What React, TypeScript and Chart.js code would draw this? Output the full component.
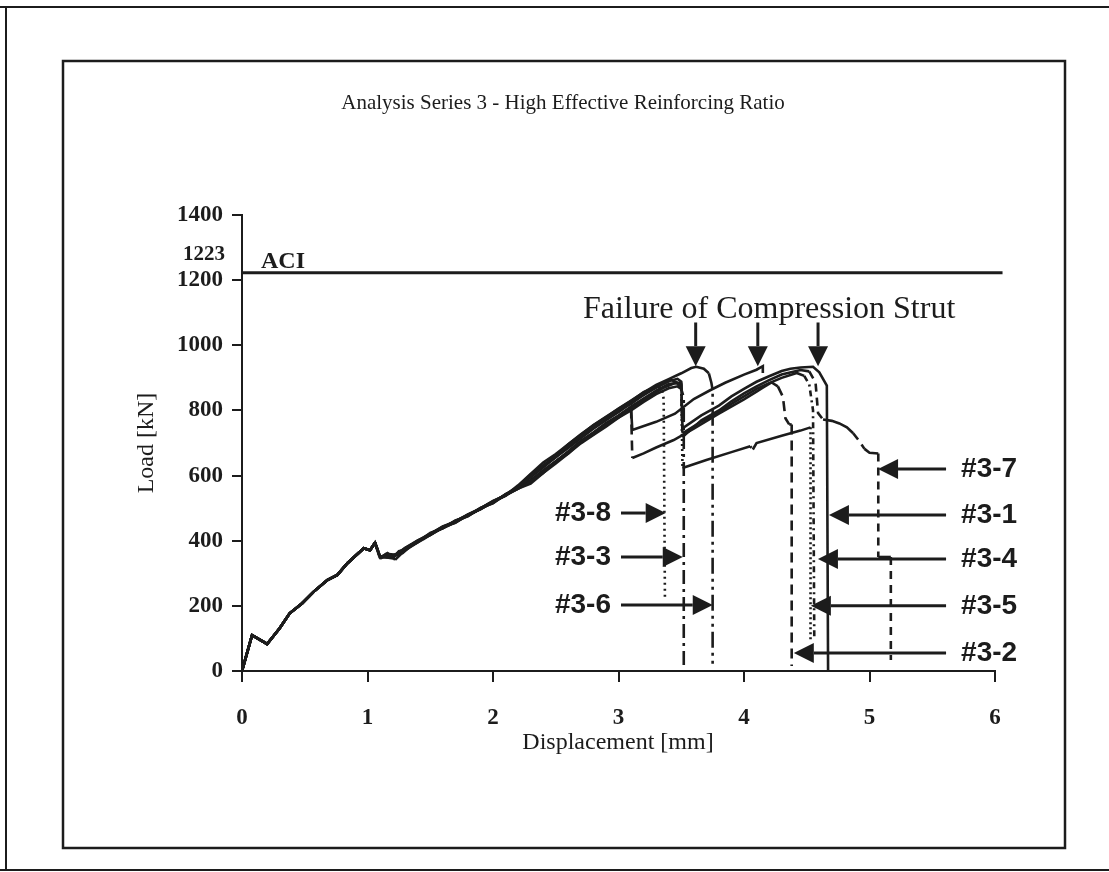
import { useEffect, useRef } from 'react';
import { Chart, registerables } from 'chart.js';

Chart.register(...registerables);

type Pt = [number, number];

// Shared initial loading branch (displacement mm, load kN)
const riseStart: Pt[] = [
  [0, 0], [0.08, 110], [0.2, 83], [0.3, 131], [0.38, 177], [0.48, 208], [0.57, 243],
  [0.68, 279], [0.76, 295], [0.84, 331], [0.97, 377], [1.02, 371], [1.06, 394],
];

const run31: Pt[] = [
  [1.1, 348], [1.16, 362], [1.2, 350], [1.3, 378], [1.4, 401], [1.5, 418], [1.6, 441], [1.7, 455],
  [1.8, 480], [1.9, 496], [2.0, 520], [2.1, 538], [2.2, 566], [2.3, 596], [2.4, 631], [2.5, 656],
  [2.6, 691], [2.7, 718], [2.8, 749], [2.9, 771], [3.0, 801], [3.1, 820], [3.2, 850], [3.3, 870],
  [3.4, 890], [3.47, 897], [3.5, 888], [3.51, 745], [3.66, 785], [3.8, 815], [3.9, 843], [4.0, 866],
  [4.1, 888], [4.2, 905], [4.3, 921], [4.37, 928], [4.45, 932], [4.55, 934], [4.6, 917], [4.66, 876],
  [4.67, 0],
];

const run32: Pt[] = [
  [1.1, 352], [1.2, 346], [1.25, 368], [1.3, 372], [1.4, 396], [1.5, 424], [1.6, 438], [1.7, 462],
  [1.8, 475], [1.9, 501], [2.0, 515], [2.1, 543], [2.2, 560], [2.3, 582], [2.4, 608], [2.5, 643],
  [2.6, 668], [2.7, 704], [2.8, 726], [2.9, 758], [3.0, 778], [3.1, 806], [3.11, 654], [3.2, 668],
  [3.3, 686], [3.44, 709], [3.6, 744], [3.8, 790], [4.0, 834], [4.1, 858], [4.15, 870], [4.22, 886],
  [4.27, 874], [4.31, 842], [4.33, 776], [4.36, 757], [4.38, 757], [4.38, 15],
];

const run33: Pt[] = [
  [1.1, 345], [1.18, 358], [1.22, 341], [1.3, 371], [1.4, 395], [1.5, 421], [1.6, 444], [1.7, 459],
  [1.8, 481], [1.9, 499], [2.0, 521], [2.1, 541], [2.2, 565], [2.3, 595], [2.4, 625], [2.5, 656],
  [2.6, 685], [2.7, 715], [2.8, 744], [2.9, 770], [3.0, 795], [3.1, 822], [3.2, 847], [3.3, 871],
  [3.42, 893], [3.47, 886], [3.5, 866], [3.52, 840], [3.52, 0],
];

const run34: Pt[] = [
  [1.1, 350], [1.2, 355], [1.28, 362], [1.35, 385], [1.45, 406], [1.55, 430], [1.65, 447], [1.75, 470],
  [1.85, 487], [1.95, 510], [2.05, 530], [2.15, 552], [2.25, 574], [2.35, 596], [2.45, 628], [2.55, 656],
  [2.65, 689], [2.75, 716], [2.85, 744], [2.95, 770], [3.05, 795], [3.15, 820], [3.25, 845], [3.35, 868],
  [3.45, 884], [3.5, 880], [3.51, 730], [3.66, 766], [3.8, 795], [3.9, 820], [4.0, 843], [4.1, 866],
  [4.2, 884], [4.3, 900], [4.42, 915], [4.48, 906], [4.52, 880], [4.55, 800], [4.56, 100],
];

const run35: Pt[] = [
  [1.1, 347], [1.15, 360], [1.25, 356], [1.3, 376], [1.4, 399], [1.5, 419], [1.6, 442], [1.7, 456],
  [1.8, 479], [1.9, 497], [2.0, 519], [2.1, 539], [2.2, 560], [2.3, 575], [2.4, 608], [2.5, 637],
  [2.6, 668], [2.7, 699], [2.8, 725], [2.9, 750], [3.0, 778], [3.1, 800], [3.2, 826], [3.3, 850],
  [3.4, 868], [3.47, 874], [3.5, 866], [3.51, 623], [3.7, 648], [3.9, 672], [4.05, 690], [4.07, 680],
  [4.1, 700], [4.3, 722], [4.45, 738], [4.53, 748], [4.53, 95],
];

const run36: Pt[] = [
  [1.1, 352], [1.2, 349], [1.3, 374], [1.4, 400], [1.5, 422], [1.6, 439], [1.7, 460], [1.8, 477],
  [1.9, 500], [2.0, 517], [2.1, 542], [2.2, 566], [2.3, 603], [2.4, 631], [2.5, 661], [2.6, 696],
  [2.7, 727], [2.8, 754], [2.9, 779], [3.0, 806], [3.1, 830], [3.2, 855], [3.3, 878], [3.4, 896],
  [3.5, 914], [3.58, 930], [3.62, 934], [3.68, 928], [3.72, 914], [3.74, 885], [3.75, 863], [3.75, 12],
];

const run37: Pt[] = [
  [1.1, 349], [1.2, 351], [1.3, 373], [1.4, 397], [1.5, 421], [1.6, 443], [1.7, 457], [1.8, 476],
  [1.9, 498], [2.0, 516], [2.1, 541], [2.2, 561], [2.3, 586], [2.4, 616], [2.5, 644], [2.6, 674],
  [2.7, 707], [2.8, 732], [2.9, 761], [3.0, 784], [3.1, 812], [3.2, 836], [3.3, 861], [3.4, 881],
  [3.5, 886], [3.51, 718], [3.66, 770], [3.8, 800], [3.9, 828], [4.0, 852], [4.1, 874], [4.2, 893],
  [4.3, 910], [4.45, 924], [4.52, 920], [4.57, 886], [4.59, 792], [4.63, 772], [4.7, 768], [4.76, 760],
  [4.82, 748], [4.87, 730], [4.92, 705], [4.96, 682], [5.0, 670], [5.07, 668], [5.07, 350], [5.17, 350],
  [5.17, 34],
];

const run38: Pt[] = [
  [1.1, 351], [1.2, 348], [1.3, 377], [1.4, 399], [1.5, 417], [1.6, 440], [1.7, 461], [1.8, 477],
  [1.9, 499], [2.0, 522], [2.1, 539], [2.2, 570], [2.3, 605], [2.4, 640], [2.5, 666], [2.6, 696],
  [2.7, 725], [2.8, 755], [2.9, 780], [3.0, 805], [3.1, 829], [3.2, 856], [3.28, 870], [3.32, 875],
  [3.35, 858], [3.36, 835], [3.37, 218],
];

// Run that stops at its peak near 4.15 mm
const runStopAtPeak: Pt[] = [
  [1.1, 350], [1.2, 353], [1.3, 376], [1.4, 398], [1.5, 420], [1.6, 441], [1.7, 458], [1.8, 479],
  [1.9, 498], [2.0, 519], [2.1, 540], [2.2, 560], [2.3, 582], [2.4, 612], [2.5, 643], [2.6, 673],
  [2.7, 704], [2.8, 731], [2.9, 757], [3.0, 783], [3.1, 808], [3.11, 740], [3.3, 765], [3.45, 790],
  [3.6, 835], [3.73, 862], [3.85, 885], [4.0, 910], [4.1, 925], [4.15, 936], [4.15, 915],
];

const aciLoad = 1223;
const aciLine: Pt[] = [[0, aciLoad], [6.06, aciLoad]];

const xTicks = [0, 1, 2, 3, 4, 5, 6];
const yTicks = [0, 200, 400, 600, 800, 1000, 1200, 1400];

const INK = '#1c1c1c';
const SERIF = '"Liberation Serif", "Times New Roman", serif';
const SANS = '"Liberation Sans", Arial, sans-serif';

const runs = [
  { label: '#3-1', pts: run31, dash: [] as number[] },
  { label: '#3-2', pts: run32, dash: [10, 6] },
  { label: '#3-3', pts: run33, dash: [14, 5, 3, 5] },
  { label: '#3-4', pts: run34, dash: [6, 4, 2, 4] },
  { label: '#3-5', pts: run35, dash: [2, 3] },
  { label: '#3-6', pts: run36, dash: [16, 5, 3, 5, 3, 5] },
  { label: '#3-7', pts: run37, dash: [8, 6] },
  { label: '#3-8', pts: run38, dash: [2, 4] },
  { label: 'peak stop', pts: runStopAtPeak, dash: [] as number[] },
];

// Callout arrows (data coordinates of the arrow tip)
const leftCallouts = [
  { text: '#3-8', tip: [3.376, 485] as Pt },
  { text: '#3-3', tip: [3.512, 350] as Pt },
  { text: '#3-6', tip: [3.751, 203] as Pt },
];
const rightCallouts = [
  { text: '#3-7', tip: [5.068, 620] as Pt },
  { text: '#3-1', tip: [4.677, 479] as Pt },
  { text: '#3-4', tip: [4.589, 344] as Pt },
  { text: '#3-5', tip: [4.533, 200] as Pt },
  { text: '#3-2', tip: [4.397, 55] as Pt },
];
const failureArrowX = [3.615, 4.11, 4.59];

function drawArrow(ctx: CanvasRenderingContext2D, x0: number, y0: number, x1: number, y1: number) {
  const head = 20;
  const half = 10;
  const a = Math.atan2(y1 - y0, x1 - x0);
  const bx = x1 - head * Math.cos(a);
  const by = y1 - head * Math.sin(a);
  ctx.save();
  ctx.strokeStyle = INK;
  ctx.fillStyle = INK;
  ctx.lineWidth = 3;
  ctx.setLineDash([]);
  ctx.beginPath();
  ctx.moveTo(x0, y0);
  ctx.lineTo(bx, by);
  ctx.stroke();
  ctx.beginPath();
  ctx.moveTo(x1, y1);
  ctx.lineTo(bx - half * Math.sin(a), by + half * Math.cos(a));
  ctx.lineTo(bx + half * Math.sin(a), by - half * Math.cos(a));
  ctx.closePath();
  ctx.fill();
  ctx.restore();
}

const decorations = {
  id: 'decorations',
  beforeDraw(chart: Chart) {
    const ctx = chart.ctx;
    ctx.save();
    ctx.fillStyle = '#ffffff';
    ctx.fillRect(0, 0, chart.width, chart.height);
    ctx.strokeStyle = INK;
    // outer frame
    ctx.lineWidth = 2;
    ctx.beginPath();
    ctx.moveTo(0, 7);
    ctx.lineTo(1109, 7);
    ctx.moveTo(6, 7);
    ctx.lineTo(6, 870);
    ctx.moveTo(0, 870);
    ctx.lineTo(1109, 870);
    ctx.stroke();
    // inner frame
    ctx.lineWidth = 2.5;
    ctx.strokeRect(63, 61, 1002, 787);
    // title
    ctx.fillStyle = INK;
    ctx.font = `21px ${SERIF}`;
    ctx.textAlign = 'center';
    ctx.textBaseline = 'middle';
    ctx.fillText('Analysis Series 3 - High Effective Reinforcing Ratio', 563, 103);
    ctx.restore();
  },
  afterDraw(chart: Chart) {
    const ctx = chart.ctx;
    const xs = chart.scales.x;
    const ys = chart.scales.y;
    const area = chart.chartArea;
    const X = (v: number) => xs.getPixelForValue(v);
    const Y = (v: number) => ys.getPixelForValue(v);
    ctx.save();
    ctx.fillStyle = INK;

    // axis titles
    ctx.font = `24px ${SERIF}`;
    ctx.textAlign = 'center';
    ctx.textBaseline = 'middle';
    ctx.fillText('Displacement [mm]', 618, 743);
    ctx.save();
    ctx.translate(147, 443);
    ctx.rotate(-Math.PI / 2);
    ctx.fillText('Load [kN]', 0, 0);
    ctx.restore();

    // ACI reference value and label
    ctx.font = `bold 21px ${SERIF}`;
    ctx.textAlign = 'right';
    ctx.textBaseline = 'middle';
    ctx.fillText(String(aciLoad), area.left - 17, Y(aciLoad) - 18);
    ctx.font = `bold 24px ${SERIF}`;
    ctx.textAlign = 'left';
    ctx.textBaseline = 'alphabetic';
    ctx.fillText('ACI', area.left + 19, Y(aciLoad) - 5);

    // failure callout
    ctx.font = `32px ${SERIF}`;
    ctx.textAlign = 'center';
    ctx.fillText('Failure of Compression Strut', X(4.2), Y(1083));
    failureArrowX.forEach((v) => drawArrow(ctx, X(v), Y(1070), X(v), Y(936)));

    // run labels
    ctx.font = `bold 28px ${SANS}`;
    ctx.textBaseline = 'middle';
    leftCallouts.forEach((c) => {
      const tx = X(3.02);
      const ty = Y(c.tip[1]);
      drawArrow(ctx, tx, ty, X(c.tip[0]), ty);
      ctx.textAlign = 'right';
      ctx.fillText(c.text, tx - 10, ty);
    });
    rightCallouts.forEach((c) => {
      const tx = X(5.61);
      const ty = Y(c.tip[1]);
      drawArrow(ctx, tx, ty, X(c.tip[0]), ty);
      ctx.textAlign = 'left';
      ctx.fillText(c.text, tx + 15, ty);
    });
    ctx.restore();
  },
};

export default function App() {
  const ref = useRef<HTMLCanvasElement>(null);

  useEffect(() => {
    if (!ref.current) return;
    const datasets: any[] = runs.map((r) => ({
      label: r.label,
      data: [...riseStart, ...r.pts].map(([x, y]) => ({ x, y })),
      showLine: true,
      borderColor: INK,
      borderWidth: 2.6,
      // the run's own pattern; also keeps Chart.js on its exact path tracer so vertical drops are drawn once
      borderDash: r.dash,
      pointRadius: 0,
      tension: 0,
      fill: false,
      // rising and gently falling stretches read as continuous traces; steep drops show the run's dash
      segment: {
        borderDash: (c: any) => {
          const dx = c.p1.parsed.x - c.p0.parsed.x;
          const dy = c.p1.parsed.y - c.p0.parsed.y;
          const slope = dy / Math.max(dx, 1e-6);
          return slope < -400 ? r.dash : [];
        },
      },
    }));
    datasets.push({
      label: 'ACI',
      data: aciLine.map(([x, y]) => ({ x, y })),
      showLine: true,
      borderColor: INK,
      borderWidth: 3,
      pointRadius: 0,
      clip: false,
    });

    const chart = new Chart(ref.current, {
      type: 'scatter',
      data: { datasets },
      plugins: [decorations],
      options: {
        animation: false,
        responsive: false,
        devicePixelRatio: 1,
        layout: { padding: { left: 63, top: 215, right: 114, bottom: 141 } },
        plugins: { legend: { display: false }, tooltip: { enabled: false } },
        events: [],
        scales: {
          x: {
            type: 'linear',
            min: 0,
            max: 6,
            afterBuildTicks: (s: any) => { s.ticks = xTicks.map((v) => ({ value: v })); },
            afterFit: (s: any) => { s.height = 60; },
            grid: { drawOnChartArea: false, drawTicks: true, tickLength: 11, color: INK, lineWidth: 2 },
            border: { display: true, color: INK, width: 2 },
            ticks: {
              color: INK,
              padding: 22,
              maxRotation: 0,
              callback: (v: any) => String(v),
              font: { family: SERIF, size: 23, weight: 'bold' },
            },
          },
          y: {
            type: 'linear',
            min: 0,
            max: 1400,
            afterBuildTicks: (s: any) => { s.ticks = yTicks.map((v) => ({ value: v })); },
            afterFit: (s: any) => { s.width = 179; },
            grid: { drawOnChartArea: false, drawTicks: true, tickLength: 10, color: INK, lineWidth: 2 },
            border: { display: true, color: INK, width: 2 },
            ticks: {
              color: INK,
              padding: 9,
              callback: (v: any) => String(v),
              font: { family: SERIF, size: 23, weight: 'bold' },
            },
          },
        },
      } as any,
    });
    return () => chart.destroy();
  }, []);

  return (
    <canvas
      ref={ref}
      width={1109}
      height={872}
      style={{ position: 'fixed', left: 0, top: 0, width: 1109, height: 872 }}
    />
  );
}
